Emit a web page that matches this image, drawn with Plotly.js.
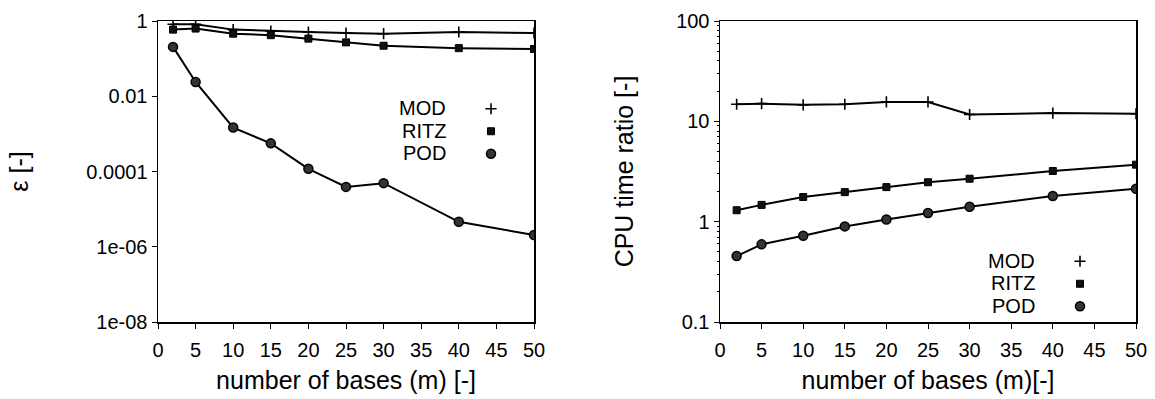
<!DOCTYPE html>
<html>
<head>
<meta charset="utf-8">
<script src="https://cdn.plot.ly/plotly-3.0.1.min.js"></script>
<style>html,body{margin:0;padding:0;background:#fff;}#chart{width:1155px;height:399px;}</style>
</head>
<body>
<div id="chart"></div>
<script>
// ---- data ----
const seriesNames = ['MOD', 'RITZ', 'POD'];
const bases = [2, 5, 10, 15, 20, 25, 30, 40, 50];

// relative error epsilon [-]
const errMOD  = [0.82, 0.82, 0.59, 0.54, 0.51, 0.48, 0.46, 0.51, 0.48];
const errRITZ = [0.59, 0.63, 0.46, 0.42, 0.34, 0.27, 0.22, 0.19, 0.18];
const errPOD  = [0.205, 0.024, 0.00147, 0.00056, 0.000118, 0.000039, 0.000049, 0.0000046, 0.00000205];

// CPU time ratio [-]
const cpuMOD  = [14.8, 15.0, 14.6, 14.8, 15.6, 15.6, 11.7, 12.1, 11.9];
const cpuRITZ = [1.30, 1.47, 1.76, 1.97, 2.21, 2.47, 2.68, 3.2, 3.7];
const cpuPOD  = [0.454, 0.594, 0.724, 0.897, 1.05, 1.22, 1.41, 1.80, 2.13];

const errTickVals = [1, 0.01, 0.0001, 0.000001, 0.00000001];
const errTickText = ['1', '0.01', '0.0001', '1e-06', '1e-08'];
const cpuTickVals = [0.1, 1, 10, 100];
const cpuTickText = ['0.1', '1', '10', '100'];
const cpuMinorTicks = [0.2, 0.3, 0.4, 0.5, 0.6, 0.7, 0.8, 0.9, 2, 3, 4, 5, 6, 7, 8, 9, 20, 30, 40, 50, 60, 70, 80, 90];
const xTickVals = [0, 5, 10, 15, 20, 25, 30, 35, 40, 45, 50];

const xTitleLeft = 'number of bases (m) [-]';
const xTitleRight = 'number of bases (m)[-]';
const yTitleLeft = 'ε [-]';
const yTitleRight = 'CPU time ratio [-]';

// ---- styles ----
const FONT = 'Liberation Sans, Arial, Helvetica, sans-serif';
const markerStyles = [
  {symbol: 'cross-thin', size: 8, color: '#000', line: {color: '#000', width: 1.6}},
  {symbol: 'square', size: 7, color: '#111', line: {color: '#000', width: 1}},
  {symbol: 'circle', size: 9, color: '#333', line: {color: '#000', width: 1.5}}
];

const errData = [errMOD, errRITZ, errPOD];
const cpuData = [cpuMOD, cpuRITZ, cpuPOD];
const traces = [];
seriesNames.forEach((nm, i) => {
  traces.push({x: bases, y: errData[i], name: nm, type: 'scatter', mode: 'lines+markers',
    line: {color: '#000', width: 2}, marker: markerStyles[i], xaxis: 'x', yaxis: 'y', showlegend: false});
  traces.push({x: bases, y: cpuData[i], name: nm, type: 'scatter', mode: 'lines+markers',
    line: {color: '#000', width: 2}, marker: markerStyles[i], xaxis: 'x2', yaxis: 'y2', showlegend: false});
});
// legend-only marker samples (labels drawn as annotations to the left)
seriesNames.forEach((nm, i) => {
  traces.push({x: [null], y: [null], name: '', type: 'scatter', mode: 'markers', marker: markerStyles[i],
    xaxis: 'x', yaxis: 'y', legend: 'legend', showlegend: true, hoverinfo: 'skip'});
  traces.push({x: [null], y: [null], name: '', type: 'scatter', mode: 'markers', marker: markerStyles[i],
    xaxis: 'x2', yaxis: 'y2', legend: 'legend2', showlegend: true, hoverinfo: 'skip'});
});

const W = 1155, H = 399;
const PT = 21, PB = 322; // plot area top / bottom in pixels
const py = p => (PB - p) / (PB - PT); // pixel row -> paper y
const axisCommon = {
  showline: true, linecolor: '#000', linewidth: 1.5, mirror: true,
  ticks: 'outside', ticklen: 5, tickwidth: 1, tickcolor: '#000',
  showgrid: false, zeroline: false,
  tickfont: {family: FONT, size: 20, color: '#000'}
};

const annotations = [];
const legLeftY = [108, 130.5, 153];
const legRightY = [260.5, 283, 305.5];
seriesNames.forEach((nm, i) => {
  annotations.push({text: nm, xref: 'paper', yref: 'paper', x: 448 / W, y: py(legLeftY[i]),
    xanchor: 'right', yanchor: 'middle', showarrow: false, font: {family: FONT, size: 20, color: '#000'}});
  annotations.push({text: nm, xref: 'paper', yref: 'paper', x: 1037 / W, y: py(legRightY[i]),
    xanchor: 'right', yanchor: 'middle', showarrow: false, font: {family: FONT, size: 20, color: '#000'}});
});

const layout = {
  width: W, height: H,
  margin: {l: 0, r: 0, t: PT, b: H - PB},
  paper_bgcolor: '#fff', plot_bgcolor: '#fff',
  font: {family: FONT, color: '#000'},
  xaxis: Object.assign({}, axisCommon, {domain: [158 / W, 534 / W], range: [0, 50], tickvals: xTickVals,
    ticklabelstandoff: 4,
    title: {text: xTitleLeft, font: {family: FONT, size: 25}, standoff: 12}, anchor: 'y'}),
  yaxis: Object.assign({}, axisCommon, {type: 'log', range: [-8, 0], tickvals: errTickVals, ticktext: errTickText,
    title: {text: yTitleLeft, font: {family: FONT, size: 25}, standoff: 50}, anchor: 'x'}),
  xaxis2: Object.assign({}, axisCommon, {domain: [720 / W, 1136 / W], range: [0, 50], tickvals: xTickVals,
    ticklabelstandoff: 4,
    title: {text: xTitleRight, font: {family: FONT, size: 25}, standoff: 12}, anchor: 'y2'}),
  yaxis2: Object.assign({}, axisCommon, {type: 'log', range: [-1, 2], tickvals: cpuTickVals, ticktext: cpuTickText,
    minor: {tickvals: cpuMinorTicks, ticks: 'outside', ticklen: 2, tickcolor: '#000', showgrid: false},
    title: {text: yTitleRight, font: {family: FONT, size: 25}, standoff: 35}, anchor: 'x2'}),
  legend: {x: (491 - 20) / W, xanchor: 'left', y: py(92.5), yanchor: 'top', bgcolor: 'rgba(0,0,0,0)',
    borderwidth: 0, font: {family: FONT, size: 15}, tracegroupgap: 0},
  legend2: {x: (1080 - 20) / W, xanchor: 'left', y: py(245), yanchor: 'top', bgcolor: 'rgba(0,0,0,0)',
    borderwidth: 0, font: {family: FONT, size: 15}, tracegroupgap: 0},
  annotations: annotations,
  showlegend: true
};

Plotly.newPlot('chart', traces, layout, {displayModeBar: false, staticPlot: true});
</script>
</body>
</html>
